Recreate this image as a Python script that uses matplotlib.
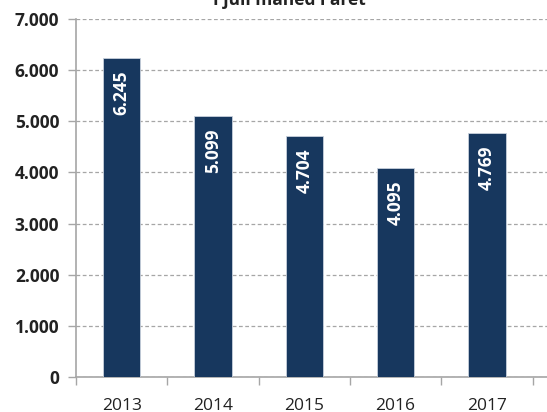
import matplotlib
matplotlib.use("Agg")
import matplotlib.pyplot as plt
from matplotlib.ticker import FuncFormatter, FixedLocator

years = ["2013", "2014", "2015", "2016", "2017"]
values = [6245, 5099, 4704, 4095, 4769]
yticks = [0, 1000, 2000, 3000, 4000, 5000, 6000, 7000]
title = "I juli måned i året"

bar_color = "#17375E"
axis_color = "#A6A6A6"
font = "Open Sans"

def fmt(v):
    return f"{int(v):,}".replace(",", ".")

fig = plt.figure(figsize=(5.47, 4.12), dpi=100)
ax = fig.add_axes([76/547, 35/412, 1 - 76/547, (377-19)/412])

x = list(range(len(years)))
ax.bar(x, values, width=0.41, color=bar_color, edgecolor="#C8D0DC", linewidth=0.6, zorder=3)

for xi, v in zip(x, values):
    ax.annotate(fmt(v), xy=(xi, v), xytext=(0, -9), textcoords="offset points",
                rotation=90, ha="center", va="top", color="white",
                fontweight="bold", fontsize=12.5, family=font, zorder=4)

ax.set_xlim(-0.5, -0.5 + (547-76)/91.3)
ax.set_ylim(0, 7000)
ax.set_yticks(yticks)
ax.yaxis.set_major_formatter(FuncFormatter(lambda v, p: fmt(v)))
ax.set_xticks(x)
ax.set_xticklabels(years)
ax.xaxis.set_minor_locator(FixedLocator([i - 0.5 for i in range(len(years) + 1)]))

ax.tick_params(axis="x", which="major", length=0, pad=15, labelsize=12.5, colors="#222222")
ax.tick_params(axis="x", which="minor", length=6, color=axis_color, width=1)
ax.tick_params(axis="y", length=6, color=axis_color, width=1, pad=6, labelsize=12.5, labelcolor="#222222")
for lab in ax.get_yticklabels():
    lab.set_fontweight("bold")
    lab.set_family(font)
for lab in ax.get_xticklabels():
    lab.set_family(font)

ax.grid(axis="y", linestyle=(0, (3, 2)), color="#A6A6A6", linewidth=0.9, zorder=0)
for s in ["top", "right"]:
    ax.spines[s].set_visible(False)
for s in ["left", "bottom"]:
    ax.spines[s].set_color(axis_color)
    ax.spines[s].set_linewidth(1.2)

fig.text(289/547, 1 - 5/412, title, ha="center", va="baseline", fontsize=12.5,
         fontweight="bold", family=font, color="#222222")

fig.savefig("out.png", dpi=100)
